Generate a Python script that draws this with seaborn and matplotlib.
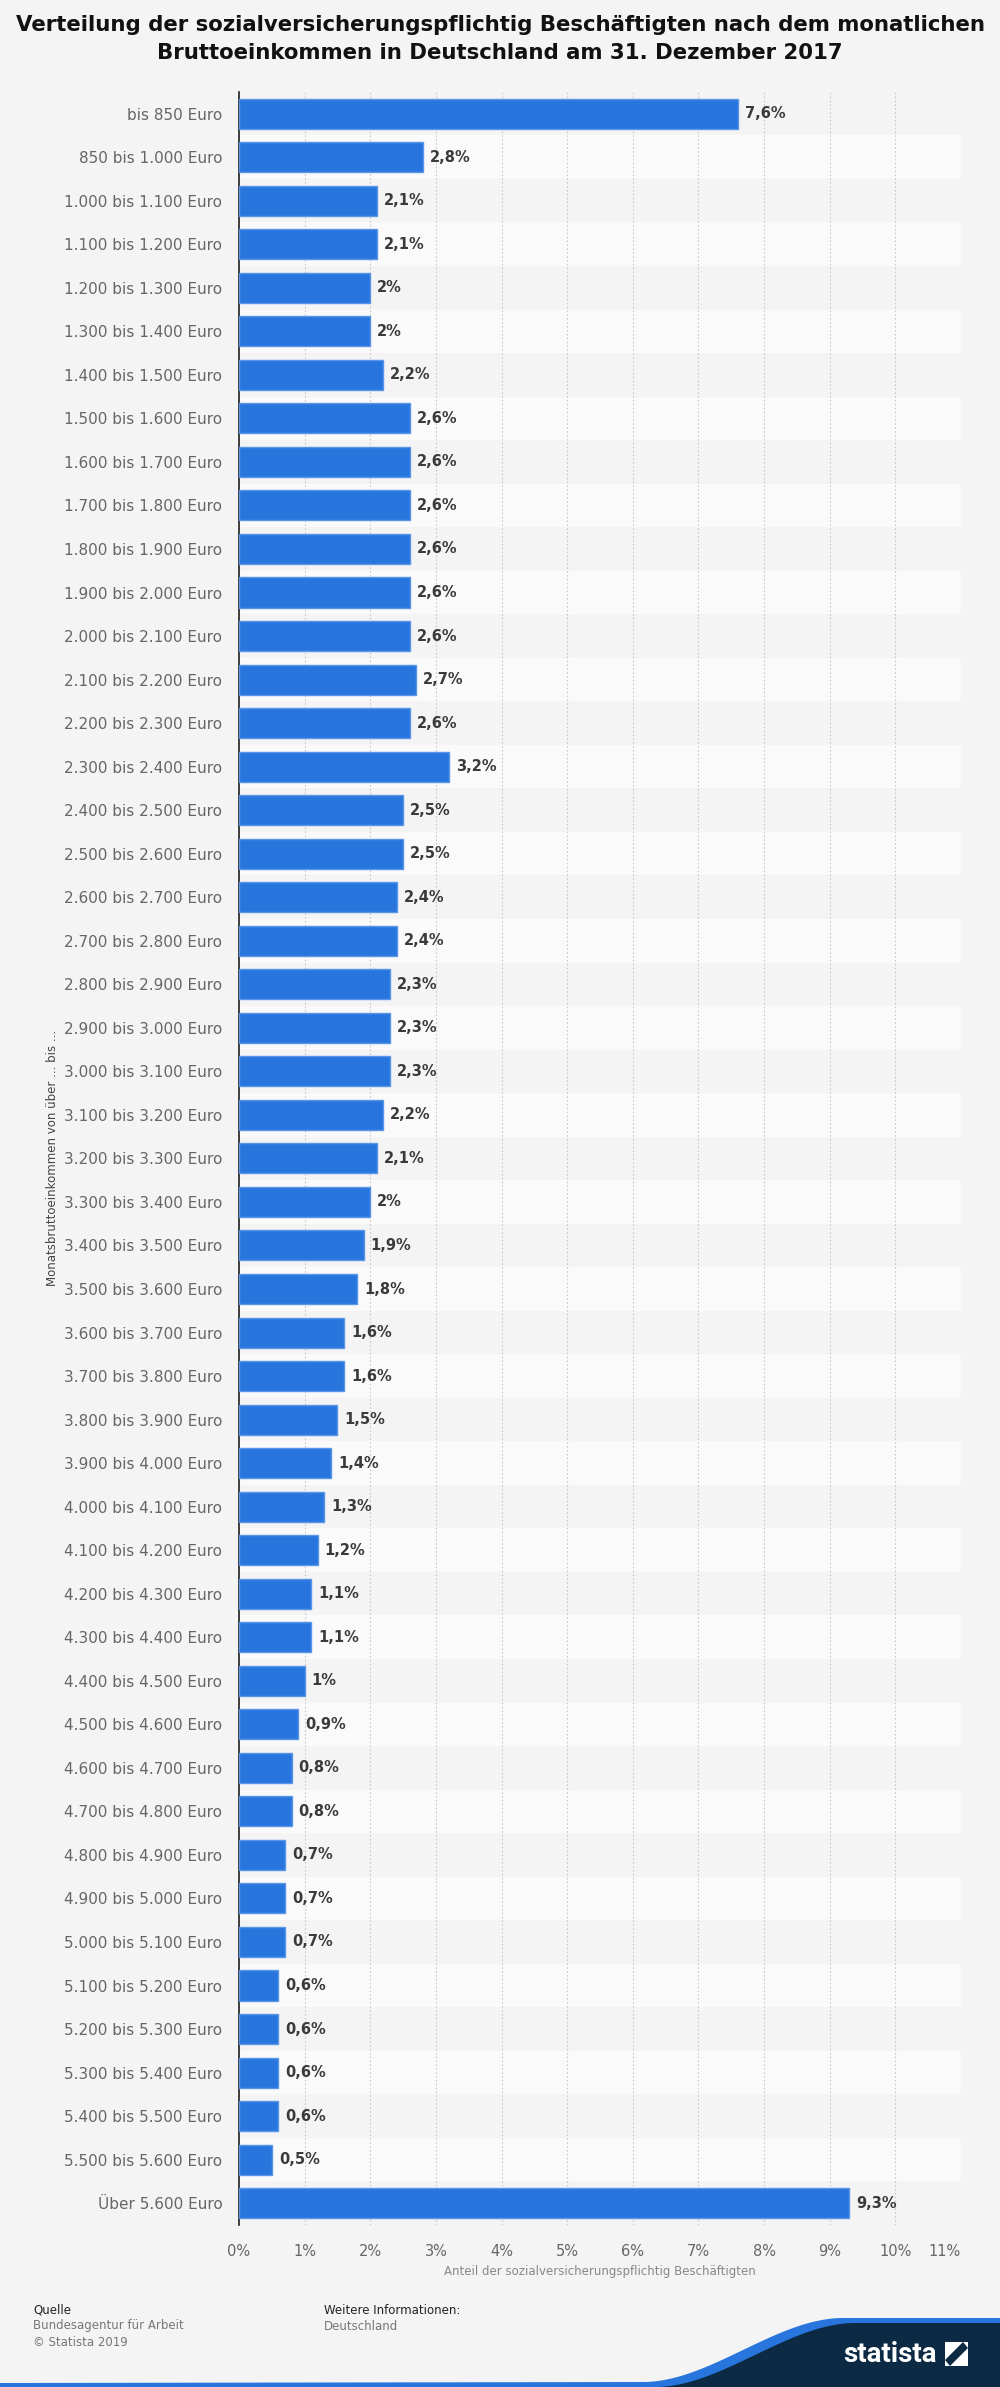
import numpy as np
import pandas as pd
import matplotlib
matplotlib.use('Agg')
import matplotlib.pyplot as plt
import seaborn as sns
from matplotlib.patches import Polygon, Rectangle

# Daten: Monatsbruttoeinkommen und Anteil (in %)
kategorien = [
    'bis 850 Euro', '850 bis 1.000 Euro', '1.000 bis 1.100 Euro', '1.100 bis 1.200 Euro',
    '1.200 bis 1.300 Euro', '1.300 bis 1.400 Euro', '1.400 bis 1.500 Euro', '1.500 bis 1.600 Euro',
    '1.600 bis 1.700 Euro', '1.700 bis 1.800 Euro', '1.800 bis 1.900 Euro', '1.900 bis 2.000 Euro',
    '2.000 bis 2.100 Euro', '2.100 bis 2.200 Euro', '2.200 bis 2.300 Euro', '2.300 bis 2.400 Euro',
    '2.400 bis 2.500 Euro', '2.500 bis 2.600 Euro', '2.600 bis 2.700 Euro', '2.700 bis 2.800 Euro',
    '2.800 bis 2.900 Euro', '2.900 bis 3.000 Euro', '3.000 bis 3.100 Euro', '3.100 bis 3.200 Euro',
    '3.200 bis 3.300 Euro', '3.300 bis 3.400 Euro', '3.400 bis 3.500 Euro', '3.500 bis 3.600 Euro',
    '3.600 bis 3.700 Euro', '3.700 bis 3.800 Euro', '3.800 bis 3.900 Euro', '3.900 bis 4.000 Euro',
    '4.000 bis 4.100 Euro', '4.100 bis 4.200 Euro', '4.200 bis 4.300 Euro', '4.300 bis 4.400 Euro',
    '4.400 bis 4.500 Euro', '4.500 bis 4.600 Euro', '4.600 bis 4.700 Euro', '4.700 bis 4.800 Euro',
    '4.800 bis 4.900 Euro', '4.900 bis 5.000 Euro', '5.000 bis 5.100 Euro', '5.100 bis 5.200 Euro',
    '5.200 bis 5.300 Euro', '5.300 bis 5.400 Euro', '5.400 bis 5.500 Euro', '5.500 bis 5.600 Euro',
    'Über 5.600 Euro',
]
anteile = [
    7.6, 2.8, 2.1, 2.1, 2.0, 2.0, 2.2, 2.6, 2.6, 2.6, 2.6, 2.6, 2.6, 2.7, 2.6, 3.2,
    2.5, 2.5, 2.4, 2.4, 2.3, 2.3, 2.3, 2.2, 2.1, 2.0, 1.9, 1.8, 1.6, 1.6, 1.5, 1.4,
    1.3, 1.2, 1.1, 1.1, 1.0, 0.9, 0.8, 0.8, 0.7, 0.7, 0.7, 0.6, 0.6, 0.6, 0.6, 0.5,
    9.3,
]
x_ticks = list(range(12))

df = pd.DataFrame({'Einkommen': kategorien, 'Anteil': anteile})

sns.set_style('white')
plt.rcParams['font.family'] = ['DejaVu Sans']

BG = '#f4f4f4'
BLAU = '#2876dd'
NAVY = '#0c2a44'

fig = plt.figure(figsize=(10, 23.87), dpi=100, facecolor=BG)
ax = fig.add_axes([0.239, 0.0679, 0.722, 0.8936])
ax.set_facecolor(BG)

# abwechselnde Zeilenhintergruende
for i in range(len(kategorien)):
    if i % 2 == 1:
        ax.axhspan(i - 0.5, i + 0.5, color='#fafafa', zorder=0, lw=0)

sns.barplot(data=df, x='Anteil', y='Einkommen', orient='h', color=BLAU, saturation=1,
            width=0.69, edgecolor='#5a96e8', linewidth=1, errorbar=None, ax=ax, zorder=3)

ax.set_xlim(0, 11)
ax.set_ylim(len(kategorien) - 0.5, -0.5)
ax.set_xticks(x_ticks)
ax.set_xticklabels([f'{t}%' for t in x_ticks])
ax.get_xticklabels()[-1].set_horizontalalignment('right')
ax.set_axisbelow(True)
ax.grid(axis='x', linestyle=(0, (1.5, 2)), color='#c8c8c8', lw=0.8)
ax.grid(axis='y', visible=False)
for s in ['top', 'right', 'bottom']:
    ax.spines[s].set_visible(False)
ax.spines['left'].set_color('#222222')
ax.spines['left'].set_linewidth(1.2)
ax.tick_params(axis='x', length=0, labelsize=10.5, labelcolor='#666666', pad=14)
ax.tick_params(axis='y', length=0, labelsize=11, labelcolor='#666666', pad=12)
ax.set_xlabel('')
ax.set_ylabel('')

werte_text = [f'{v:g}'.replace('.', ',') + '%' for v in anteile]
ax.bar_label(ax.containers[0], labels=werte_text, padding=5, fontsize=10.5,
             fontweight='bold', color='#3a3a3a')

# Overlay fuer Titel, Beschriftungen und Fusszeile (Pixelkoordinaten)
ov = fig.add_axes([0, 0, 1, 1], facecolor='none')
ov.set_xlim(0, 1000)
ov.set_ylim(2387, 0)
ov.axis('off')

ov.text(500, 25, 'Verteilung der sozialversicherungspflichtig Beschäftigten nach dem monatlichen',
        ha='center', va='center', fontsize=15.3, fontweight='bold', color='#111111')
ov.text(500, 53, 'Bruttoeinkommen in Deutschland am 31. Dezember 2017',
        ha='center', va='center', fontsize=15.3, fontweight='bold', color='#111111')

ov.text(53, 1158, 'Monatsbruttoeinkommen von über ... bis ...', rotation=90,
        ha='center', va='center', fontsize=8.5, color='#444444')
ov.text(600, 2271, 'Anteil der sozialversicherungspflichtig Beschäftigten',
        ha='center', va='center', fontsize=8.5, color='#888888')

ov.text(33, 2310, 'Quelle', ha='left', va='center', fontsize=8.5, color='#222222')
ov.text(33, 2326, 'Bundesagentur für Arbeit', ha='left', va='center', fontsize=8.5, color='#777777')
ov.text(33, 2342, '© Statista 2019', ha='left', va='center', fontsize=8.5, color='#777777')
ov.text(324, 2310, 'Weitere Informationen:', ha='left', va='center', fontsize=8.5, color='#222222')
ov.text(324, 2326, 'Deutschland', ha='left', va='center', fontsize=8.5, color='#777777')

# Statista-Logo unten rechts
t = np.linspace(0, 1, 120)
glatt = t * t * (3 - 2 * t)
kx = 655 + 200 * t
ky = 2387 - 64 * glatt
blau_pts = [(0, 2383)] + list(zip(kx - 12, ky - 5)) + [(1000, 2318), (1000, 2387), (0, 2387)]
ov.add_patch(Polygon(blau_pts, closed=True, color=BLAU, lw=0))
navy_pts = list(zip(kx, ky)) + [(1000, 2323), (1000, 2387)]
ov.add_patch(Polygon(navy_pts, closed=True, color=NAVY, lw=0))
ov.text(890, 2355, 'statista', ha='center', va='center', fontsize=20, fontweight='bold',
        family='Roboto', color='white')
ov.add_patch(Rectangle((945, 2342), 23, 24, color='white', lw=0))
ov.add_patch(Polygon([(945, 2360), (950, 2366), (968, 2348), (963, 2342)], closed=True,
                     color=NAVY, lw=0))

fig.savefig('out.png', dpi=100, facecolor=BG)
